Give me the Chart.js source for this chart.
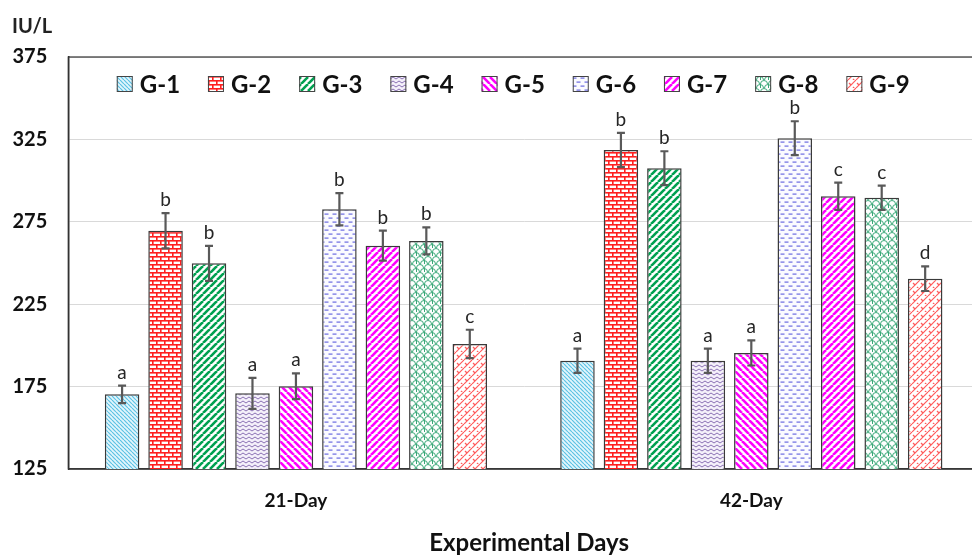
<!DOCTYPE html>
<html>
<head>
<meta charset="utf-8">
<title>IU/L by group</title>
<script src="https://cdn.jsdelivr.net/npm/chart.js@4.4.0/dist/chart.umd.min.js"></script>
<style>
  html, body { margin: 0; padding: 0; background: #fff; overflow: hidden; }
  canvas { display: block; }
</style>
</head>
<body>
<canvas id="chart" width="990" height="559"></canvas>
<script>
// Data
const categories = ['21-Day', '42-Day'];
const groups = ['G-1', 'G-2', 'G-3', 'G-4', 'G-5', 'G-6', 'G-7', 'G-8', 'G-9'];
const day21 = [170.3, 269.6, 249.8, 170.9, 175.2, 282.6, 260.5, 263.4, 200.9];
const day42 = [190.7, 318.6, 307.5, 190.7, 195.4, 325.7, 290.5, 289.6, 240.5];
const err21 = [5.3, 10.7, 10.6, 9.4, 7.8, 9.8, 9.1, 8.2, 8.6];
const err42 = [7.4, 10.4, 10.3, 7.4, 7.6, 10.3, 8.3, 7.4, 7.5];
const sig21 = ['a', 'b', 'b', 'a', 'a', 'b', 'b', 'b', 'c'];
const sig42 = ['a', 'b', 'b', 'a', 'a', 'b', 'c', 'c', 'd'];
const yTicks = [125, 175, 225, 275, 325, 375];
const xTitle = 'Experimental Days';
const yUnit = 'IU/L';

const FONT = 'Lato, "Open Sans", sans-serif';
const canvas = document.getElementById('chart');
const ctx = canvas.getContext('2d');

// --- fill patterns (one per group) ---
function tile(w, h, bg, paint) {
    const c = document.createElement('canvas');
    c.width = w; c.height = h;
    const g = c.getContext('2d');
    g.fillStyle = bg;
    g.fillRect(0, 0, w, h);
    paint(g, w, h);
    return ctx.createPattern(c, 'repeat');
}

function diag(g, w, color, lw, up) {
    g.strokeStyle = color;
    g.lineWidth = lw;
    for (let k = -1; k <= 1; k++) {
        g.beginPath();
        if (up) { g.moveTo(k * w, w); g.lineTo(k * w + w, 0); }
        else { g.moveTo(k * w, 0); g.lineTo(k * w + w, w); }
        g.stroke();
    }
}

const patterns = [
    tile(4, 4, '#e4f6fc', g => diag(g, 4, '#5cc2e4', 1.2, false)),
    tile(8, 8, '#fff', g => {
        g.fillStyle = '#ff2020';
        g.fillRect(0, 0, 8, 1.6);
        g.fillRect(0, 4, 8, 1.6);
        g.fillRect(0, 0, 1.6, 4);
        g.fillRect(4, 4, 1.6, 4);
    }),
    tile(7, 7, '#fff', g => diag(g, 7, '#00a050', 2.6, true)),
    tile(6, 4, '#f4f0fa', g => {
        g.strokeStyle = '#8a70b4'; g.lineWidth = 1;
        g.beginPath(); g.moveTo(0, 3); g.lineTo(3, 1); g.lineTo(6, 3); g.stroke();
    }),
    tile(7, 7, '#fff', g => diag(g, 7, '#ff00ff', 2.6, false)),
    tile(8, 8, '#fbfbff', g => {
        g.fillStyle = '#6a6ae0';
        g.fillRect(0.5, 1.5, 4, 1.2);
        g.fillRect(4.5, 5.5, 4, 1.2);
        g.fillRect(-3.5, 5.5, 4, 1.2);
    }),
    tile(7, 7, '#fff', g => diag(g, 7, '#ff00ff', 2.6, true)),
    tile(8, 8, '#fff', g => {
        g.strokeStyle = '#3aa878'; g.lineWidth = 1;
        g.beginPath(); g.arc(4, 4, 3.5, Math.PI, 0); g.stroke();
        g.beginPath(); g.arc(0, 8, 3.5, Math.PI, 0); g.stroke();
        g.beginPath(); g.arc(8, 8, 3.5, Math.PI, 0); g.stroke();
        g.beginPath(); g.moveTo(0.5, 4); g.lineTo(0.5, 8); g.stroke();
    }),
    tile(8, 8, '#fff', g => {
        diag(g, 8, '#ff5a5a', 1.2, true);
        g.beginPath(); g.moveTo(1, 3); g.lineTo(3, 5); g.stroke();
        g.beginPath(); g.moveTo(5, 7); g.lineTo(7, 9); g.stroke();
    })
];

// --- plugins ---
const frame = {
    id: 'frame',
    beforeDatasetsDraw(chart) {
        const { ctx, chartArea: a } = chart;
        ctx.save();
        ctx.strokeStyle = '#333';
        ctx.lineWidth = 1.2;
        ctx.strokeRect(a.left, a.top, a.right - a.left, a.bottom - a.top);
        ctx.restore();
    },
    afterDraw(chart) {
        const { ctx, chartArea: a } = chart;
        ctx.save();
        ctx.fillStyle = '#222';
        ctx.font = 'bold 20px ' + FONT;
        ctx.textAlign = 'left';
        ctx.textBaseline = 'alphabetic';
        ctx.fillText(yUnit, 12, 33);
        ctx.fillStyle = '#111';
        ctx.font = 'bold 24px ' + FONT;
        ctx.textAlign = 'center';
        ctx.fillText(xTitle, (a.left + a.right) / 2 + 5.5, 551);
        ctx.restore();
    }
};

const errorBars = {
    id: 'errorBars',
    afterDatasetsDraw(chart) {
        const { ctx } = chart;
        const y = chart.scales.y;
        ctx.save();
        chart.data.datasets.forEach((ds, i) => {
            const meta = chart.getDatasetMeta(i);
            meta.data.forEach((bar, j) => {
                const v = ds.data[j];
                const e = ds.errors[j];
                const top = y.getPixelForValue(v + e);
                const bot = y.getPixelForValue(v - e);
                ctx.strokeStyle = '#595959';
                ctx.lineWidth = 2.2;
                ctx.beginPath();
                ctx.moveTo(bar.x, top); ctx.lineTo(bar.x, bot);
                ctx.moveTo(bar.x - 4, top); ctx.lineTo(bar.x + 4, top);
                ctx.moveTo(bar.x - 4, bot); ctx.lineTo(bar.x + 4, bot);
                ctx.stroke();
                ctx.fillStyle = '#262626';
                ctx.font = '19px ' + FONT;
                ctx.textAlign = 'center';
                ctx.textBaseline = 'alphabetic';
                ctx.fillText(ds.letters[j], bar.x, top - 7);
            });
        });
        ctx.restore();
    }
};

const boxLegend = {
    id: 'boxLegend',
    afterDraw(chart) {
        const { ctx, chartArea: a } = chart;
        const start = a.left + 48.5, step = 91.2, cy = 84;
        ctx.save();
        ctx.font = 'bold 24px ' + FONT;
        ctx.textAlign = 'left';
        ctx.textBaseline = 'middle';
        chart.data.datasets.forEach((ds, i) => {
            const x = start + i * step;
            ctx.fillStyle = ds.backgroundColor;
            ctx.fillRect(x, cy - 8, 16, 16);
            ctx.strokeStyle = '#444';
            ctx.lineWidth = 1;
            ctx.strokeRect(x + 0.5, cy - 7.5, 15, 15);
            ctx.fillStyle = '#111';
            ctx.fillText(ds.label, x + 23, cy + 1);
        });
        ctx.restore();
    }
};

function build() {
    const datasets = groups.map((name, i) => ({
        label: name,
        data: [day21[i], day42[i]],
        errors: [err21[i], err42[i]],
        letters: [sig21[i], sig42[i]],
        backgroundColor: patterns[i],
        borderColor: '#3a3a3a',
        borderWidth: 1.5,
        categoryPercentage: 0.859,
        barPercentage: 0.794
    }));

    new Chart(canvas, {
        type: 'bar',
        data: { labels: categories, datasets },
        options: {
            responsive: false,
            animation: false,
            events: [],
            layout: { padding: { top: 57, right: 11, bottom: 0, left: 0 } },
            plugins: {
                legend: { display: false },
                tooltip: { enabled: false }
            },
            scales: {
                x: {
                    grid: { display: false, drawTicks: false },
                    border: { color: '#404040', width: 1.5 },
                    ticks: { color: '#111', padding: 20, font: { family: FONT, size: 19, weight: 'bold' } },
                    afterFit: s => { s.height = 90; }
                },
                y: {
                    min: 125,
                    max: 375,
                    grid: { color: '#d9d9d9', lineWidth: 1, drawTicks: false },
                    border: { color: '#333', width: 1.5 },
                    ticks: { color: '#111', padding: 21, font: { family: FONT, size: 20, weight: 'bold' } },
                    afterBuildTicks: s => { s.ticks = yTicks.map(v => ({ value: v })); },
                    afterFit: s => { s.width = 68.25; }
                }
            }
        },
        plugins: [frame, errorBars, boxLegend]
    });
}

Promise.all([
    document.fonts.load('bold 20px Lato'),
    document.fonts.load('19px Lato')
]).then(build, build);
</script>
</body>
</html>
